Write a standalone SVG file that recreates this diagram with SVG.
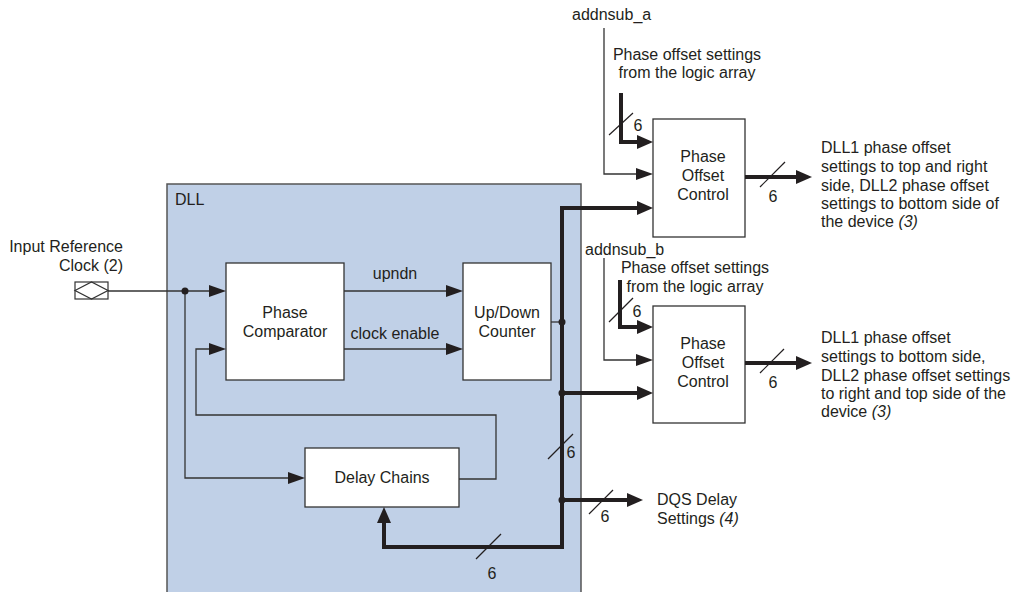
<svg xmlns="http://www.w3.org/2000/svg" width="1014" height="592" viewBox="0 0 1014 592">
<defs>
<marker id="at" markerUnits="userSpaceOnUse" viewBox="0 0 17 12" markerWidth="17" markerHeight="12" refX="7" refY="6" orient="auto-start-reverse"><path d="M0,0 L17,6 L0,12 z" fill="#231f20"/></marker>
<marker id="ak" markerUnits="userSpaceOnUse" viewBox="0 0 16 14" markerWidth="16" markerHeight="14" refX="6" refY="7" orient="auto-start-reverse"><path d="M0,0 L16,7 L0,14 z" fill="#231f20"/></marker>
<style>
text{font-family:"Liberation Sans",Arial,sans-serif;font-size:16px;fill:#231f20}
.c{text-anchor:middle}
.box{fill:#fff;stroke:#333;stroke-width:1.3}
.thin{fill:none;stroke:#333;stroke-width:1.3}
.thick{fill:none;stroke:#231f20;stroke-width:4;stroke-linejoin:miter}
.sl{stroke:#231f20;stroke-width:1.2}
.dot{fill:#231f20}
</style>
</defs>
<g id="dll">
<rect x="167" y="184" width="414" height="430" fill="#c0d0e7" stroke="#555" stroke-width="1.5"/>
<text x="175" y="205">DLL</text>
</g>
<g id="input-clock">
<rect x="75" y="282" width="33" height="17" fill="#fff" stroke="#333" stroke-width="1.2"/>
<path d="M75,290.5 L91.5,282 L108,290.5 L91.5,299 z" fill="none" stroke="#333" stroke-width="1.2"/>
<text x="123" y="252" text-anchor="end">Input Reference</text>
<text x="123" y="271" text-anchor="end">Clock (2)</text>
</g>
<g id="phase-comparator">
<rect class="box" x="226" y="263" width="118" height="117"/>
<text class="c" x="285" y="318">Phase</text>
<text class="c" x="285" y="337">Comparator</text>
</g>
<g id="updown-counter">
<rect class="box" x="463" y="263" width="88" height="117"/>
<text class="c" x="507" y="318">Up/Down</text>
<text class="c" x="507" y="337">Counter</text>
</g>
<g id="delay-chains">
<rect class="box" x="305" y="448" width="154" height="59"/>
<text class="c" x="382" y="483">Delay Chains</text>
</g>
<g id="poc1">
<rect class="box" x="653" y="119" width="92" height="118"/>
<text class="c" x="703" y="162">Phase</text>
<text class="c" x="703" y="181">Offset</text>
<text class="c" x="703" y="200">Control</text>
</g>
<g id="poc2">
<rect class="box" x="653" y="306" width="92" height="117"/>
<text class="c" x="703" y="349">Phase</text>
<text class="c" x="703" y="368">Offset</text>
<text class="c" x="703" y="387">Control</text>
</g>
<g id="labels">
<text x="572" y="20">addnsub_a</text>
<text class="c" x="687" y="60">Phase offset settings</text>
<text class="c" x="687" y="78">from the logic array</text>
<text x="585" y="255">addnsub_b</text>
<text class="c" x="695" y="273">Phase offset settings</text>
<text class="c" x="695" y="292">from the logic array</text>
<text x="395" y="279" class="c">upndn</text>
<text x="395" y="339" class="c">clock enable</text>
<text x="821" y="153">DLL1 phase offset</text>
<text x="821" y="172">settings to top and right</text>
<text x="821" y="191">side, DLL2 phase offset</text>
<text x="821" y="209">settings to bottom side of</text>
<text x="821" y="227">the device <tspan font-style="italic">(3)</tspan></text>
<text x="821" y="343">DLL1 phase offset</text>
<text x="821" y="362">settings to bottom side,</text>
<text x="821" y="381">DLL2 phase offset settings</text>
<text x="821" y="399">to right and top side of the</text>
<text x="821" y="417">device <tspan font-style="italic">(3)</tspan></text>
<text x="657" y="505">DQS Delay</text>
<text x="657" y="524">Settings <tspan font-style="italic">(4)</tspan></text>
<text class="c" x="492" y="579">6</text>
<text class="c" x="571" y="458">6</text>
<text class="c" x="638" y="131">6</text>
<text class="c" x="773" y="202">6</text>
<text class="c" x="637" y="317">6</text>
<text class="c" x="773" y="388">6</text>
<text class="c" x="605" y="522">6</text>
</g>
<g id="connectors">
<path class="thin" d="M108,291 L216,291" marker-end="url(#at)"/>
<path class="thin" d="M185,291 L185,478 L295,478" marker-end="url(#at)"/>
<path class="thin" d="M459,479 L496,479 L496,415 L196,415 L196,349 L216,349" marker-end="url(#at)"/>
<path class="thin" d="M344,291 L453,291" marker-end="url(#at)"/>
<path class="thin" d="M344,349 L453,349" marker-end="url(#at)"/>
<path class="thin" d="M551,322 L562,322"/>
<path class="thin" d="M604,28 L604,174 L643,174" marker-end="url(#at)"/>
<path class="thin" d="M604,258 L604,360 L643,360" marker-end="url(#at)"/>
<path class="thick" d="M384,517 L384,547 L562,547 L562,208 L643,208" marker-start="url(#ak)" marker-end="url(#ak)"/>
<path class="thick" d="M562,393 L643,393" marker-end="url(#ak)"/>
<path class="thick" d="M562,500 L633,500" marker-end="url(#ak)"/>
<path class="thick" d="M745,177 L802,177" marker-end="url(#ak)"/>
<path class="thick" d="M745,363 L802,363" marker-end="url(#ak)"/>
<path class="thick" d="M621,93 L621,142 L643,142" marker-end="url(#ak)"/>
<path class="thick" d="M620,280 L620,327 L643,327" marker-end="url(#ak)"/>
<circle class="dot" cx="185" cy="291" r="3.5"/>
<circle class="dot" cx="562" cy="322" r="3.5"/>
<circle class="dot" cx="562" cy="393" r="3.5"/>
<circle class="dot" cx="562" cy="500" r="3.5"/>
<line class="sl" x1="476" y1="559" x2="501" y2="534"/>
<line class="sl" x1="548" y1="459" x2="573" y2="434"/>
<line class="sl" x1="609" y1="135" x2="633" y2="113"/>
<line class="sl" x1="760" y1="187" x2="785" y2="162"/>
<line class="sl" x1="609" y1="322" x2="633" y2="298"/>
<line class="sl" x1="760" y1="373" x2="784" y2="349"/>
<line class="sl" x1="589" y1="514" x2="613" y2="490"/>
</g>
</svg>
